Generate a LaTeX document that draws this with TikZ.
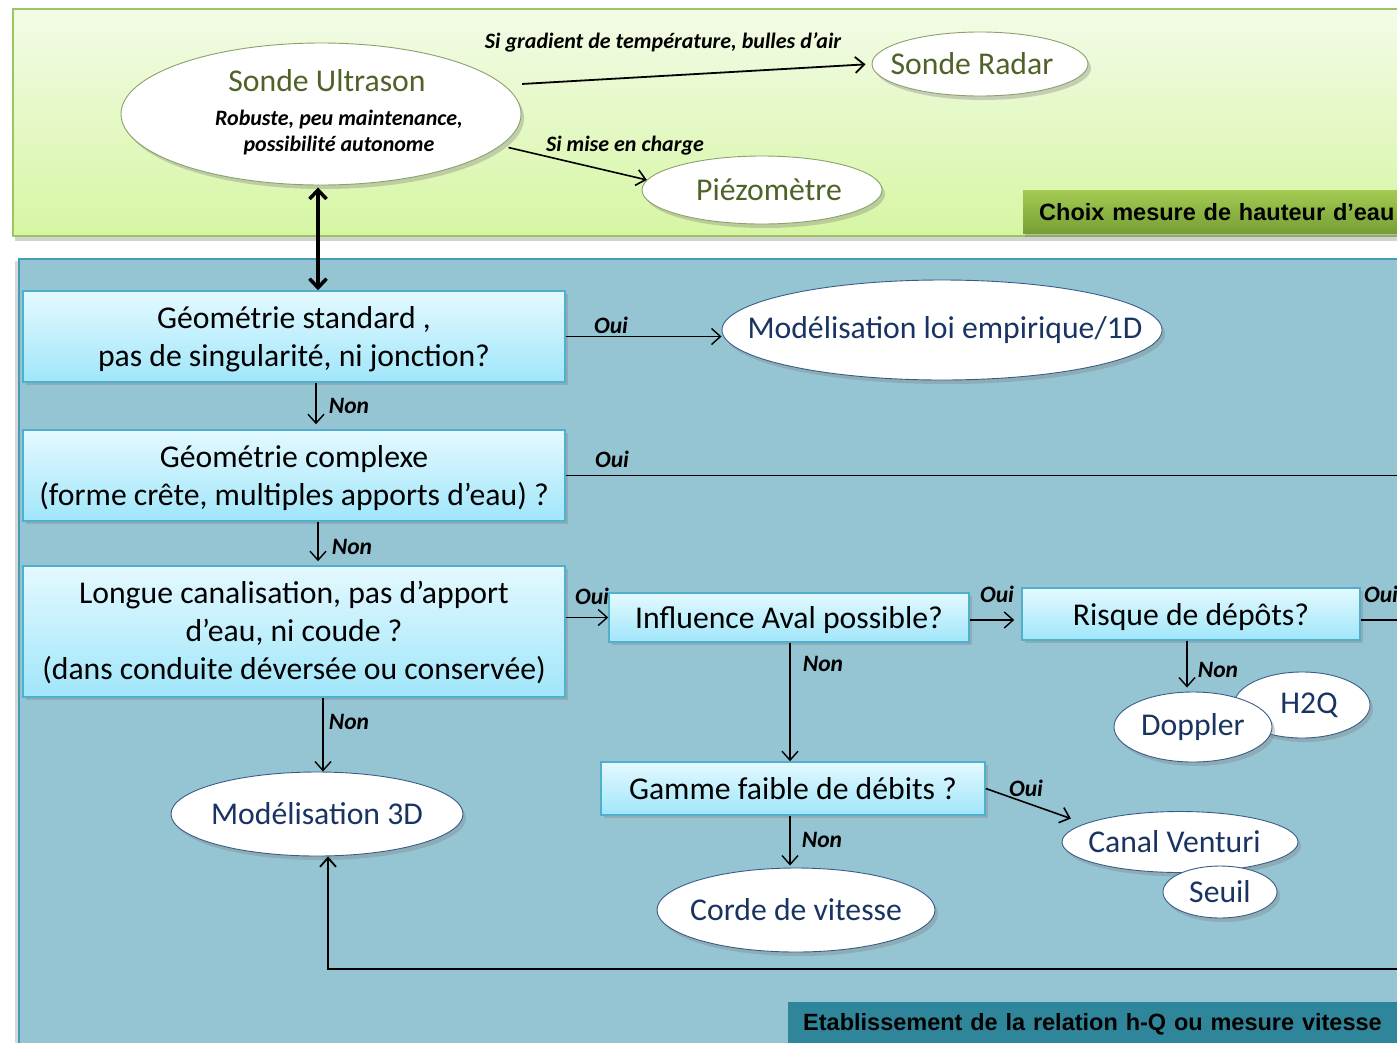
\documentclass[tikz,border=0pt]{standalone}
\usepackage{fontspec}
\setmainfont{Carlito}
\newfontfamily\labfont{Liberation Sans}
\usetikzlibrary{arrows.meta,shapes.geometric,shadows,calc}
\definecolor{gpTop}{RGB}{243,251,231}
\definecolor{gpBot}{RGB}{214,246,163}
\definecolor{gpBorder}{RGB}{155,197,95}
\definecolor{glTop}{RGB}{163,203,82}
\definecolor{glBot}{RGB}{118,158,52}
\definecolor{bpFill}{RGB}{149,196,210}
\definecolor{bpBorder}{RGB}{70,155,182}
\definecolor{blFill}{RGB}{47,134,155}
\definecolor{boxTop}{RGB}{228,249,255}
\definecolor{boxBot}{RGB}{160,230,250}
\definecolor{boxBorder}{RGB}{80,175,205}
\definecolor{greenText}{RGB}{79,98,40}
\definecolor{navyText}{RGB}{25,52,98}
\definecolor{ellBlue}{RGB}{56,93,138}
\definecolor{ellGreen}{RGB}{140,160,110}
\newcommand\nw[2][0pt]{\makebox[0pt]{\hspace*{#1}#2}}
\begin{document}
\begin{tikzpicture}[x=1pt,y=-1pt,
  panelshadow/.style={drop shadow={opacity=0.35,shadow xshift=2pt,shadow yshift=-5pt}},
  boxnode/.style={rectangle, draw=boxBorder, line width=1.5pt, top color=boxTop, bottom color=boxBot,
     inner sep=0pt, drop shadow={opacity=0.35,shadow xshift=3pt,shadow yshift=-3pt}},
  btext/.style={align=center, font=\fontsize{31.7}{38}\selectfont, inner sep=0pt},
  ellbase/.style={ellipse, fill=white, inner sep=0pt, line width=0.9pt, font=\fontsize{31.7}{38}\selectfont,
     drop shadow={opacity=0.35,shadow xshift=3pt,shadow yshift=-4pt}},
  ellG/.style={ellbase, draw=ellGreen, text=greenText},
  ellB/.style={ellbase, draw=ellBlue, text=navyText},
  lab/.style={font=\fontsize{22}{26}\selectfont\bfseries\itshape, inner sep=0pt},
  yn/.style={font=\fontsize{23.5}{26}\selectfont\bfseries\itshape, inner sep=0pt},
  seclab/.style={font=\labfont\bfseries\fontsize{23.5}{28}\selectfont, text=black, inner ysep=0pt,
     align=left, anchor=north west, drop shadow={opacity=0.4,shadow xshift=2pt,shadow yshift=-4pt}},
  arr/.style={-{Straight Barb[length=9pt,width=16pt]}, line width=1.4pt},
  thickarr/.style={{Straight Barb[length=9pt,width=17pt]}-{Straight Barb[length=9pt,width=17pt]}, line width=3.5pt},
  plain/.style={line width=1.8pt}]
\useasboundingbox (0,0) rectangle (1397,1042);
\fill[white] (0,0) rectangle (1397,1042);
\clip (0,0) rectangle (1397,1042);

% panels
\node[rectangle, draw=gpBorder, line width=2pt, top color=gpTop, bottom color=gpBot, panelshadow,
      minimum width=1398pt, minimum height=227pt, anchor=north west] (gp) at (12,8) {};
\node[seclab, top color=glTop, bottom color=glBot, inner xsep=16pt, text width=420pt,
      minimum height=43pt] (gl) at (1023,190) {Choix mesure de hauteur d’eau};
\node[rectangle, draw=bpBorder, line width=1.5pt, fill=bpFill,
      drop shadow={opacity=0.3,shadow xshift=-4pt,shadow yshift=-2pt},
      minimum width=1392pt, minimum height=792pt, anchor=north west] (bp) at (18,258) {};
\node[seclab, fill=blFill, inner xsep=15pt, text width=620pt, minimum height=45pt,
      drop shadow={opacity=0}] (bl) at (788,1002) {Etablissement de la relation h-Q ou mesure vitesse};

% helper coordinates
\coordinate (edgeR) at (1402,0);
\coordinate (c316) at (316,0);
\coordinate (c318) at (318,0);
\coordinate (c323) at (323,0);
\coordinate (c328) at (328,0);
\coordinate (c790) at (790,0);
\coordinate (c1187) at (1187,0);
\coordinate (c620) at (0,620);
\coordinate (c969) at (0,969);

% top ellipses
\node[ellG, minimum width=400pt, minimum height=142pt] (us) at (321,114) {};
\node[text=greenText, font=\fontsize{31.7}{38}\selectfont, inner sep=0pt] (ust) at (327,81) {Sonde Ultrason};
\node[font=\fontsize{22}{26}\selectfont\bfseries\itshape, align=center, inner sep=0pt] (usd) at (339,133)
   {Robuste, peu maintenance,\\possibilité autonome};
\node[ellG, minimum width=216pt, minimum height=64pt] (sr) at (980,64) {\nw[-16pt]{Sonde Radar}};
\node[ellG, minimum width=240pt, minimum height=68pt] (pz) at (762,190) {\nw[14pt]{Piézomètre}};

% boxes
\node[boxnode, minimum width=542pt, minimum height=91pt,
      label={[btext,yshift=-3pt]center:{Géométrie standard ,\\pas de singularité, ni jonction?}}] (b1) at (294,336.5) {};
\node[boxnode, minimum width=542pt, minimum height=91pt,
      label={[btext,yshift=-3pt]center:{Géométrie complexe\\(forme crête, multiples apports d’eau) ?}}] (b2) at (294,475.5) {};
\node[boxnode, minimum width=542pt, minimum height=131pt,
      label={[btext,yshift=-1pt]center:{Longue canalisation, pas d’apport\\d’eau, ni coude ?\\(dans conduite déversée ou conservée)}}] (b3) at (294,631.5) {};
\node[boxnode, minimum width=360pt, minimum height=49pt,
      label={[btext,yshift=-3pt]center:{Influence Aval possible?}}] (b4) at (789,617.5) {};
\node[boxnode, minimum width=338pt, minimum height=52pt,
      label={[btext,yshift=-3pt]center:{Risque de dépôts?}}] (b5) at (1191,614) {};
\node[boxnode, minimum width=384pt, minimum height=53pt,
      label={[btext]center:{Gamme faible de débits ?}}] (b6) at (793,788.5) {};

% result ellipses
\node[ellB, minimum width=440pt, minimum height=100pt] (ml) at (942,330) {\nw[6pt]{Modélisation loi empirique/1D}};
\node[ellB, minimum width=292pt, minimum height=84pt] (m3d) at (317,814) {\nw{Modélisation 3D}};
\node[ellB, minimum width=278pt, minimum height=84pt] (cdv) at (796,910) {\nw{Corde de vitesse}};
\node[ellB, minimum width=136pt, minimum height=66pt] (h2q) at (1302,705) {\nw[14pt]{\raisebox{2pt}{H2Q}}};
\node[ellB, minimum width=158pt, minimum height=70pt] (dop) at (1193,727) {\nw{Doppler}};
\node[ellB, minimum width=236pt, minimum height=61pt] (cvt) at (1180,842) {\nw[-11pt]{Canal Venturi}};
\node[ellB, minimum width=114pt, minimum height=52pt] (seu) at (1220,892) {\nw{Seuil}};

% connectors
\draw[thickarr, shorten <=2pt] (us.south -| c318) -- (b1.north -| c318);
\draw[arr, line width=1.8pt, shorten <=18pt, shorten >=6pt] (us.9) -- (sr.west);
\draw[arr, line width=1.6pt, shorten <=8pt] (us.350) -- (pz.175);
\draw[arr] (b1.east) -- (b1.east -| ml.west);
\draw[arr, shorten >=5pt] (b1.south -| c316) -- (b2.north -| c316);
\draw[plain] (b2.east) -- (b2.east -| edgeR);
\draw[arr, shorten >=4pt] (b2.south -| c318) -- (b3.north -| c318);
\draw[arr] (b3.east |- b4.west) -- (b4.west);
\draw[arr] (b3.south -| c323) -- (m3d.north -| c323);
\draw[arr, shorten >=7pt] (b4.east |- c620) -- (b5.west |- c620);
\draw[plain] (b5.east |- c620) -- (edgeR |- c620);
\draw[arr, shorten >=4pt] (b5.south -| c1187) -- (dop.north -| c1187);
\draw[arr] (b4.south -| c790) -- (b6.north -| c790);
\draw[arr, line width=1.6pt, shorten >=15pt] (b6.east) -- (cvt.169);
\draw[arr, shorten >=2pt] (b6.south -| c790) -- (cdv.north -| c790);
\draw[arr, line width=1.8pt] (edgeR |- c969) -| (m3d.south -| c328);

% connector labels
\node[lab] (l1) at (663,42) {Si gradient de température, bulles d’air};
\node[lab] (l2) at (625,146) {Si mise en charge};
\node[yn] (o1) at (611,325) {Oui};
\node[yn] (n1) at (349,406) {Non};
\node[yn] (o2) at (612,459) {Oui};
\node[yn] (n2) at (352,547) {Non};
\node[yn] (o3) at (592,596) {Oui};
\node[yn] (n3) at (349,722) {Non};
\node[yn] (o4) at (997,594) {Oui};
\node[yn] (o5) at (1381,594) {Oui};
\node[yn] (n4) at (1218,670) {Non};
\node[yn] (n5) at (823,664) {Non};
\node[yn] (o6) at (1026,788) {Oui};
\node[yn] (n6) at (822,840) {Non};
\end{tikzpicture}
\end{document}
